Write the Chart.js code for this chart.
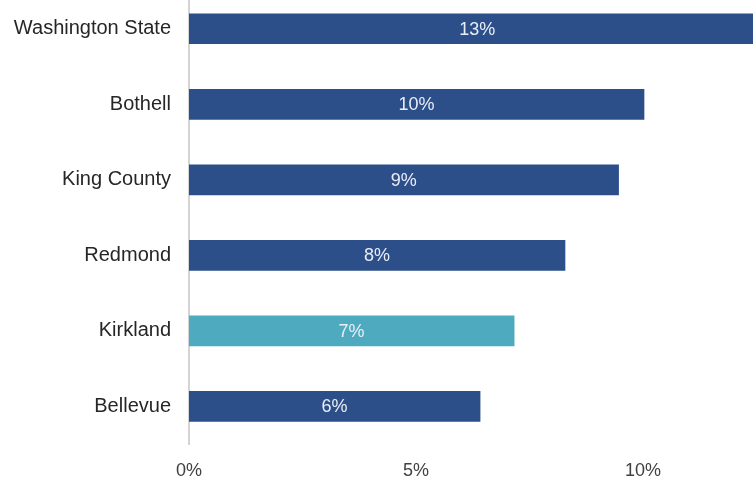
<!DOCTYPE html>
<html>
<head>
<meta charset="utf-8">
<script src="https://cdn.jsdelivr.net/npm/chart.js@4/dist/chart.umd.min.js"></script>
<style>
    html, body { margin: 0; padding: 0; background: #fff; overflow: hidden; }
    #wrap { position: relative; width: 753px; height: 482px; overflow: hidden; }
    #chart { position: absolute; left: 0; top: -9px; }
</style>
</head>
<body>
<div id="wrap">
    <canvas id="chart" width="753" height="506"></canvas>
</div>
<script>
// share of households, by area
const places = ['Washington State', 'Bothell', 'King County', 'Redmond', 'Kirkland', 'Bellevue'];
const shares = [12.7, 10.02, 9.46, 8.28, 7.16, 6.41];
const barColors = ['#2c4f8a', '#2c4f8a', '#2c4f8a', '#2c4f8a', '#4eaabf', '#2c4f8a'];
const tickValues = [0, 5, 10];

const FONT = "'Liberation Sans', Arial, sans-serif";

// percent labels in the middle of each bar
const barLabels = {
    id: 'barLabels',
    afterDatasetsDraw(chart) {
        const ctx = chart.ctx;
        const meta = chart.getDatasetMeta(0);
        ctx.save();
        ctx.font = '18px ' + FONT;
        ctx.fillStyle = '#e9eef6';
        ctx.textAlign = 'center';
        ctx.textBaseline = 'middle';
        meta.data.forEach((bar, i) => {
            const mid = (bar.base + bar.x) / 2;
            ctx.fillText(Math.round(shares[i]) + '%', mid, bar.y + 1);
        });
        ctx.restore();
    }
};

// no extra room around the plot for label overhang
const noPadding = (scale) => {
    scale.paddingTop = 0;
    scale.paddingBottom = 0;
    scale.paddingLeft = 0;
    scale.paddingRight = 0;
};

const chart = document.querySelector('#chart').getContext('2d');

new Chart(chart, {
    type: 'bar',
    data: {
        labels: places,
        datasets: [
            {
                data: shares,
                backgroundColor: barColors,
                barThickness: 30
            }
        ]
    },
    options: {
        indexAxis: 'y',
        responsive: false,
        animation: false,
        layout: { padding: 0 },
        plugins: {
            legend: { display: false },
            tooltip: { enabled: false }
        },
        scales: {
            x: {
                min: 0,
                max: 12.42,
                grid: { display: false, drawTicks: false },
                border: { display: false },
                afterBuildTicks: (scale) => {
                    scale.ticks = tickValues.map(v => ({ value: v }));
                },
                afterFit: noPadding,
                ticks: {
                    padding: 15.6,
                    color: '#404040',
                    font: { family: FONT, size: 18 },
                    callback: (v) => v + '%'
                }
            },
            y: {
                grid: { display: false, drawTicks: false },
                border: { display: true, color: '#d4d4d4', width: 2 },
                afterFit: (scale) => {
                    noPadding(scale);
                    scale.width = 189;
                },
                ticks: {
                    padding: 18,
                    color: '#262626',
                    font: { family: FONT, size: 20 }
                }
            }
        }
    },
    plugins: [barLabels]
});
</script>
</body>
</html>
